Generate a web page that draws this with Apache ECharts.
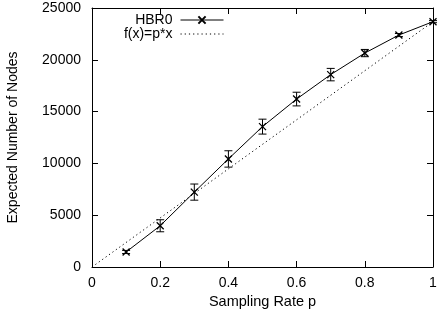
<!DOCTYPE html>
<html>
<head>
<meta charset="utf-8">
<script src="https://cdn.jsdelivr.net/npm/echarts@6/dist/echarts.min.js"></script>
<style>html,body{margin:0;padding:0;background:#fff}#c{width:437px;height:320px}</style>
</head>
<body>
<div id="c"></div>
<script>
const samplingRates = [0.1, 0.2, 0.3, 0.4, 0.5, 0.6, 0.7, 0.8, 0.9, 1.0];
const hbr0Values = [1450, 3980, 7230, 10430, 13550, 16210, 18570, 20650, 22390, 23680];
const hbr0Errors = [150, 580, 780, 790, 720, 660, 600, 350, 150, 100];
const refLineX = [0, 1];
const refLineY = [0, 23680];
const xTicks = [0, 0.2, 0.4, 0.6, 0.8, 1];
const yTicks = [0, 5000, 10000, 15000, 20000, 25000];

const FONT = '"Liberation Sans", Arial, sans-serif';
const chart = echarts.init(document.getElementById('c'), null, {renderer: 'canvas'});

const hbrData = samplingRates.map((p, i) => [p, hbr0Values[i]]);
const errData = samplingRates.map((p, i) => [p, hbr0Values[i], hbr0Errors[i]]);
const refData = refLineX.map((x, i) => [x, refLineY[i]]);

const axisCommon = {
  type: 'value',
  axisLine: {show: true, onZero: false, lineStyle: {color: '#000', width: 1}},
  axisTick: {show: true, inside: true, length: 6, lineStyle: {color: '#000'}},
  splitLine: {show: false}
};

chart.setOption({
  animation: false,
  backgroundColor: '#fff',
  textStyle: {fontFamily: FONT},
  grid: {left: 92, right: 4, top: 8, bottom: 53, containLabel: false, outerBoundsMode: 'none'},
  legend: {
    orient: 'vertical',
    align: 'right',
    right: 213,
    top: 13,
    padding: 0,
    itemWidth: 43,
    itemHeight: 9,
    itemGap: 0,
    selectedMode: false,
    lineStyle: {width: 1},
    textStyle: {fontFamily: FONT, fontSize: 14, color: '#000', padding: [0, 3, 0, 0]},
    data: [
      {name: 'HBR0'},
      {name: 'f(x)=p*x', itemStyle: {color: 'rgba(0,0,0,0)', borderWidth: 0, opacity: 0}}
    ]
  },
  xAxis: [
    Object.assign({}, axisCommon, {
      position: 'bottom', min: 0, max: 1, interval: 0.2,
      name: 'Sampling Rate p', nameLocation: 'middle', nameGap: 22,
      nameTextStyle: {fontFamily: FONT, fontSize: 14.5, color: '#000'},
      axisLabel: {show: true, margin: 9, color: '#000', fontFamily: FONT, fontSize: 14,
        formatter: v => xTicks.includes(+v.toFixed(1)) ? String(+v.toFixed(1)) : ''}
    }),
    Object.assign({}, axisCommon, {
      position: 'top', min: 0, max: 1, interval: 0.2, axisLabel: {show: false}
    })
  ],
  yAxis: [
    Object.assign({}, axisCommon, {
      position: 'left', min: 0, max: 25000, interval: 5000,
      name: 'Expected Number of Nodes', nameLocation: 'middle', nameGap: 72,
      nameTextStyle: {fontFamily: FONT, fontSize: 14, color: '#000'},
      axisLabel: {show: true, margin: 11, color: '#000', fontFamily: FONT, fontSize: 14,
        formatter: v => yTicks.includes(v) ? String(v) : ''}
    }),
    Object.assign({}, axisCommon, {
      position: 'right', min: 0, max: 25000, interval: 5000, axisLabel: {show: false}
    })
  ],
  series: [
    {
      name: 'HBR0',
      type: 'line',
      xAxisIndex: 0, yAxisIndex: 0,
      data: hbrData,
      symbol: 'path://M0,0L10,10M10,0L0,10',
      symbolSize: 7,
      showSymbol: true,
      lineStyle: {color: '#000', width: 1},
      itemStyle: {color: '#000', borderColor: '#000', borderWidth: 1.3},
      z: 3
    },
    {
      name: 'HBR0-err',
      type: 'custom',
      xAxisIndex: 0, yAxisIndex: 0,
      data: errData,
      renderItem: function (params, api) {
        const x = api.value(0), y = api.value(1), e = api.value(2);
        const hi = api.coord([x, y + e]);
        const lo = api.coord([x, y - e]);
        const w = 4;
        const st = {stroke: '#000', lineWidth: 1};
        return {
          type: 'group',
          children: [
            {type: 'line', shape: {x1: hi[0], y1: hi[1], x2: lo[0], y2: lo[1]}, style: st},
            {type: 'line', shape: {x1: hi[0] - w, y1: hi[1], x2: hi[0] + w, y2: hi[1]}, style: st},
            {type: 'line', shape: {x1: lo[0] - w, y1: lo[1], x2: lo[0] + w, y2: lo[1]}, style: st}
          ]
        };
      },
      z: 4
    },
    {
      name: 'f(x)=p*x',
      type: 'line',
      xAxisIndex: 0, yAxisIndex: 0,
      data: refData,
      symbol: 'none',
      lineStyle: {color: '#000', width: 1, type: [1.2, 3]},
      itemStyle: {color: '#000'},
      z: 2
    }
  ]
});
</script>
</body>
</html>
